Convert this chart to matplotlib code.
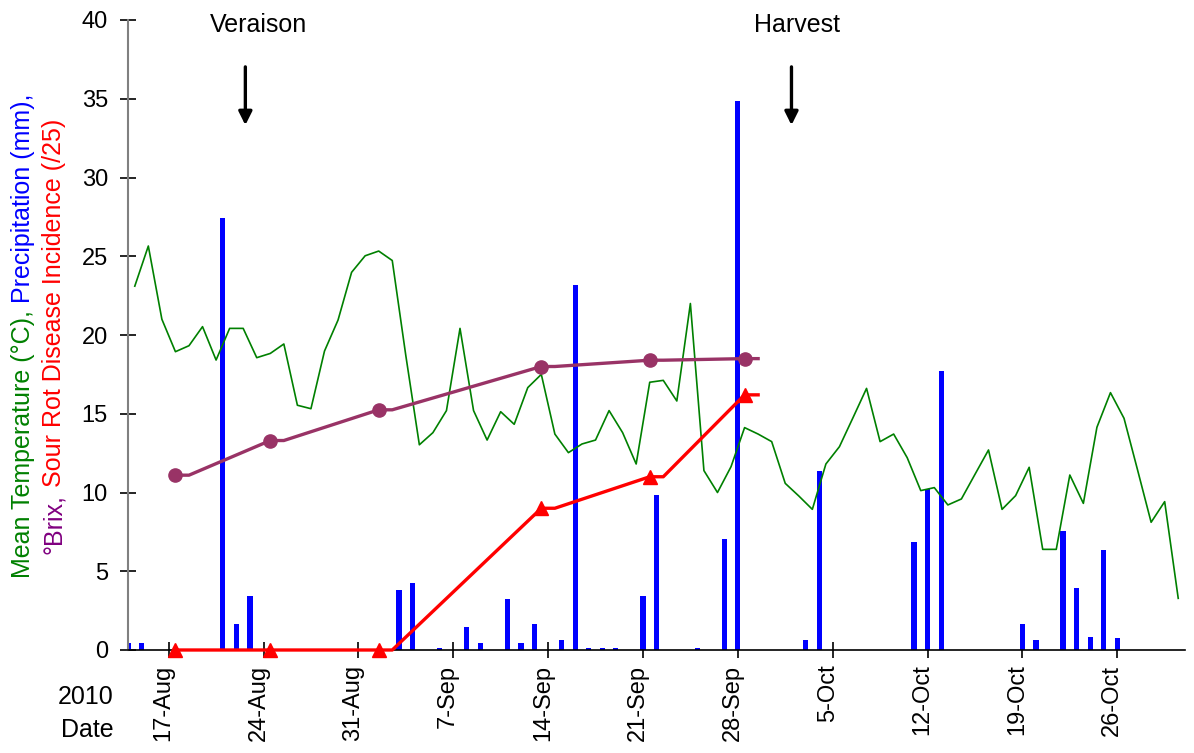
import numpy as np
import pandas as pd
import matplotlib
matplotlib.use('Agg')
import matplotlib.pyplot as plt
from matplotlib.transforms import ScaledTranslation, IdentityTransform

plt.rcParams['font.family'] = ['Liberation Sans', 'DejaVu Sans']

start = pd.Timestamp('2010-08-14')

# daily mean temperature, 14-Aug to 30-Oct
temp_c = [23.1, 25.65, 21.0, 18.94, 19.32, 20.53, 18.41, 20.42, 20.42, 18.56,
          18.83, 19.43, 15.54, 15.32, 18.98, 20.95, 23.98, 25.03, 25.33, 24.73,
          18.7, 13.03, 13.8, 15.2, 20.42, 15.2, 13.33, 15.13, 14.33, 16.66,
          17.5, 13.71, 12.53, 13.08, 13.33, 15.2, 13.8, 11.81, 17.0, 17.12,
          15.81, 22.0, 11.39, 10.0, 11.64, 14.12, 13.71, 13.23, 10.58, 9.78,
          8.93, 11.81, 12.91, 14.75, 16.61, 13.23, 13.71, 12.21, 10.12, 10.31,
          9.21, 9.59, 11.15, 12.7, 8.93, 9.8, 11.6, 6.39, 6.39, 11.11,
          9.31, 14.14, 16.34, 14.71, 11.43, 8.11, 9.42, 3.28]
temp_dates = pd.date_range(start, periods=len(temp_c))

# daily precipitation (only rainy days)
rain_dates = ['2010-08-14', '2010-08-15', '2010-08-21', '2010-08-22', '2010-08-23',
              '2010-09-03', '2010-09-04', '2010-09-06', '2010-09-08', '2010-09-09',
              '2010-09-11', '2010-09-12', '2010-09-13', '2010-09-15', '2010-09-16',
              '2010-09-17', '2010-09-18', '2010-09-19', '2010-09-21', '2010-09-22',
              '2010-09-25', '2010-09-27', '2010-09-28', '2010-10-03', '2010-10-04',
              '2010-10-11', '2010-10-12', '2010-10-13', '2010-10-19', '2010-10-20',
              '2010-10-22', '2010-10-23', '2010-10-24', '2010-10-25', '2010-10-26']
rain_mm = [0.47, 0.42, 27.4, 1.65, 3.45,
           3.83, 4.25, 0.13, 1.46, 0.42,
           3.24, 0.42, 1.65, 0.63, 23.2,
           0.1, 0.1, 0.1, 3.45, 9.84,
           0.1, 7.05, 34.86, 0.63, 11.37,
           6.84, 10.2, 17.73, 1.65, 0.63,
           7.56, 3.96, 0.85, 6.35, 0.74]

# sampling dates
sample_dates = ['2010-08-17', '2010-08-24', '2010-09-01', '2010-09-13', '2010-09-21', '2010-09-28']
brix = [11.1, 13.3, 15.25, 18.0, 18.4, 18.5]
sour_rot = [0, 0, 0, 9, 11, 16.2]

tick_labels = ['17-Aug', '24-Aug', '31-Aug', '7-Sep', '14-Sep', '21-Sep',
               '28-Sep', '5-Oct', '12-Oct', '19-Oct', '26-Oct']


def days(d):
    return np.array([(pd.Timestamp(x) - start).days for x in d], dtype=float)


fig = plt.figure(figsize=(11.94, 7.53), dpi=100)
ax = fig.add_axes([128 / 1194, 103 / 753, 1057 / 1194, 630 / 753])

ax.bar(days(rain_dates), rain_mm, width=0.38, color='#0000FF', zorder=2)
ax.plot(days(temp_dates) + 0.5, temp_c, color='#008000', lw=1.2, zorder=3)

xs = days(sample_dates) + 0.5
line_x = np.ravel(np.column_stack([xs, xs + 1]))
ax.plot(line_x, np.repeat(brix, 2), color='#993366', lw=2.4, zorder=4, clip_on=False)
ax.plot(xs, brix, 'o', color='#993366', ms=9.5, zorder=5, clip_on=False)
ax.plot(line_x, np.repeat(sour_rot, 2), color='#FF0000', lw=2.4, zorder=4, clip_on=False)
ax.plot(xs, sour_rot, '^', color='#FF0000', ms=10, zorder=5, clip_on=False)

ax.set_xlim(0, 78)
ax.set_ylim(0, 40)
ax.set_yticks(range(0, 41, 5))
ax.set_xticks(days(['2010-08-17']) + 7 * np.arange(len(tick_labels)))
ax.set_xticklabels(tick_labels, rotation=90)

ax.spines['top'].set_visible(False)
ax.spines['right'].set_visible(False)
ax.spines['left'].set_color('#808080')
ax.spines['left'].set_linewidth(1.5)
ax.spines['bottom'].set_linewidth(1.2)
ax.tick_params(axis='both', direction='inout', length=11, width=1.2, colors='black', labelsize=17)
ax.tick_params(axis='y', pad=9)
ax.tick_params(axis='x', pad=5)
for lab in ax.get_xticklabels():
    lab.set_transform(lab.get_transform() + ScaledTranslation(-5 / 100, 0, fig.dpi_scale_trans))

# events
ax.text(9.6, 39.68, 'Veraison', ha='center', va='center', fontsize=18, clip_on=False)
ax.text(49.4, 39.68, 'Harvest', ha='center', va='center', fontsize=18, clip_on=False)
for xa in [8.66, 48.96]:
    ax.annotate('', xy=(xa, 33.15), xytext=(xa, 37.2),
                arrowprops=dict(arrowstyle='-|>', color='black', lw=2.4, mutation_scale=20),
                annotation_clip=False)

fig.text(86 / 1194, 56 / 753, '2010', ha='center', va='center', fontsize=18)
fig.text(87 / 1194, 23 / 753, 'Date', ha='center', va='center', fontsize=18)

# multi-coloured y label, two centred lines
fig.canvas.draw()
renderer = fig.canvas.get_renderer()
label_lines = [
    (23, [('Mean Temperature (°C),', '#008000'), (' Precipitation (mm),', '#0000FF')]),
    (54, [('°Brix,', '#800080'), (' Sour Rot Disease Incidence (/25)', '#FF0000')]),
]
yc = 753 - 336
for xpix, pieces in label_lines:
    texts = [fig.text(0, 0, s, color=c, fontsize=18, rotation=90, ha='center', va='bottom',
                      transform=IdentityTransform()) for s, c in pieces]
    heights = [t.get_window_extent(renderer).height for t in texts]
    y = yc - sum(heights) / 2
    for t, h in zip(texts, heights):
        t.set_position((xpix, y))
        y += h

fig.savefig('out.png', dpi=100)
